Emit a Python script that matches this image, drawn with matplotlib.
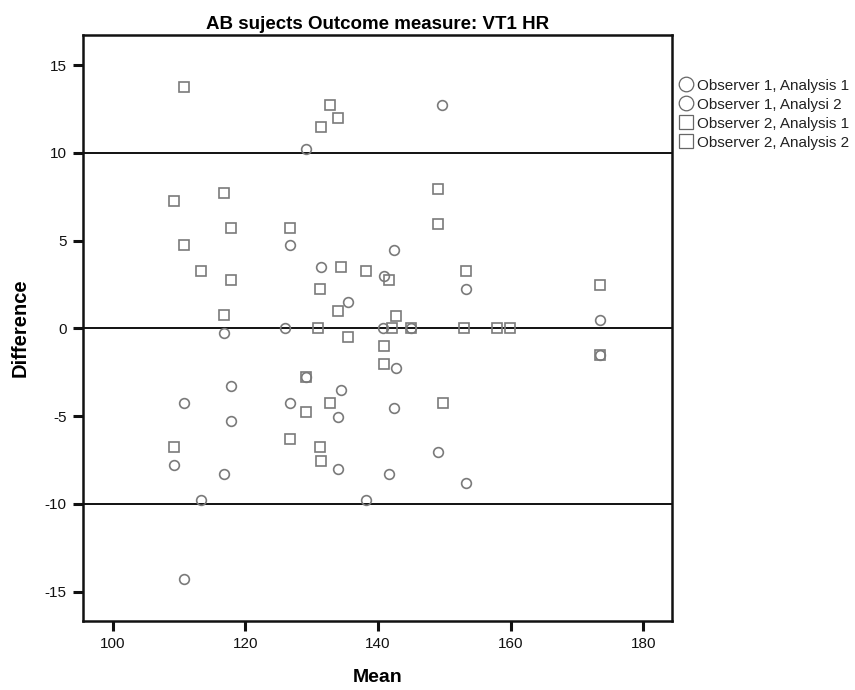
import matplotlib.pyplot as plt

plt.rcParams['font.family'] = ['Liberation Sans', 'DejaVu Sans']
plt.rcParams['axes.unicode_minus'] = False

# Observer 1 (circles)
obs1_a1_mean = [129.2, 126.7, 131.5, 135.5, 126.0, 116.8, 149.7, 142.5, 140.9, 153.3,
                173.5, 140.8, 117.8, 110.8, 126.7, 134.5]
obs1_a1_diff = [10.24, 4.73, 3.48, 1.49, 0.0, -0.28, 12.73, 4.47, 2.99, 2.23,
                0.48, 0.0, -3.26, -4.27, -4.27, -3.50]
obs1_a2_mean = [117.8, 134.0, 109.3, 116.8, 134.0, 113.3, 138.2, 110.8, 142.8, 142.5,
                149.0, 141.7, 153.3, 129.2, 173.5, 145.0]
obs1_a2_diff = [-5.25, -5.02, -7.76, -8.27, -8.02, -9.77, -9.77, -14.27, -2.27, -4.53,
                -7.02, -8.27, -8.78, -2.78, -1.51, 0.0]

# Observer 2 (squares)
obs2_a1_mean = [110.8, 132.8, 134.0, 131.5, 116.8, 109.3, 117.8, 126.7, 110.8, 113.3,
                117.8, 134.5, 138.2, 131.3, 134.0, 116.8, 131.0, 135.5, 149.0, 149.0]
obs2_a1_diff = [13.73, 12.74, 11.99, 11.49, 7.73, 7.24, 5.72, 5.72, 4.73, 3.25,
                2.74, 3.48, 3.25, 2.25, 1.0, 0.75, 0.0, -0.5, 7.96, 5.97]
obs2_a2_mean = [153.3, 141.7, 142.8, 173.5, 142.1, 145.0, 153.0, 157.9, 159.9, 129.2,
                132.8, 129.2, 126.7, 131.3, 131.5, 109.3, 140.9, 140.9, 149.8, 173.5]
obs2_a2_diff = [3.25, 2.74, 0.73, 2.48, 0.0, 0.0, 0.0, 0.0, 0.0, -2.78,
                -4.27, -4.78, -6.28, -6.77, -7.53, -6.77, -1.0, -2.02, -4.27, -1.51]

ref_lines = [10, 0, -10]
labels = ["Observer 1, Analysis 1", "Observer 1, Analysi 2",
          "Observer 2, Analysis 1", "Observer 2, Analysis 2"]

fig = plt.figure(figsize=(8.55, 6.9), dpi=100)
ax = fig.add_axes([0.0975, 0.1004, 0.6889, 0.8488])

grey = '#7a7a7a'
series = [(obs1_a1_mean, obs1_a1_diff, 'o', 7.0),
          (obs1_a2_mean, obs1_a2_diff, 'o', 7.0),
          (obs2_a1_mean, obs2_a1_diff, 's', 7.3),
          (obs2_a2_mean, obs2_a2_diff, 's', 7.3)]
handles = []
for (xs, ys, m, ms), lab in zip(series, labels):
    ax.plot(xs, ys, linestyle='none', marker=m, markersize=ms,
            markerfacecolor='none', markeredgecolor=grey, markeredgewidth=1.2,
            zorder=3)
    h, = ax.plot([], [], linestyle='none', marker=m, markersize=10.5 if m == 'o' else 10,
                 markerfacecolor='none', markeredgecolor='#666666',
                 markeredgewidth=0.9, label=lab)
    handles.append(h)

for yv in ref_lines:
    ax.axhline(yv, color='#111111', linewidth=1.4, zorder=2)

ax.set_xlim(95.6, 184.4)
ax.set_ylim(-16.65, 16.71)
ax.set_xticks([100, 120, 140, 160, 180])
ax.set_yticks([15, 10, 5, 0, -5, -10, -15])
ax.tick_params(direction='out', length=7, width=2.2, labelsize=11,
               colors='#111111', pad=5)
for s in ax.spines.values():
    s.set_linewidth(1.8)
    s.set_color('#111111')

ax.set_title("AB sujects Outcome measure: VT1 HR", fontsize=13.5, fontweight='bold', pad=4)
ax.set_xlabel("Mean", fontsize=14, fontweight='bold', labelpad=13)
ax.set_ylabel("Difference", fontsize=14.5, fontweight='bold', labelpad=11)

leg = fig.legend(handles=handles, loc='upper left', bbox_to_anchor=(0.793, 0.886),
                 frameon=False, fontsize=11, handlelength=1.0, handletextpad=0.25,
                 labelspacing=0.33, borderaxespad=0, borderpad=0)
for t in leg.get_texts():
    t.set_color('#222222')

fig.savefig("out.png", dpi=100)
